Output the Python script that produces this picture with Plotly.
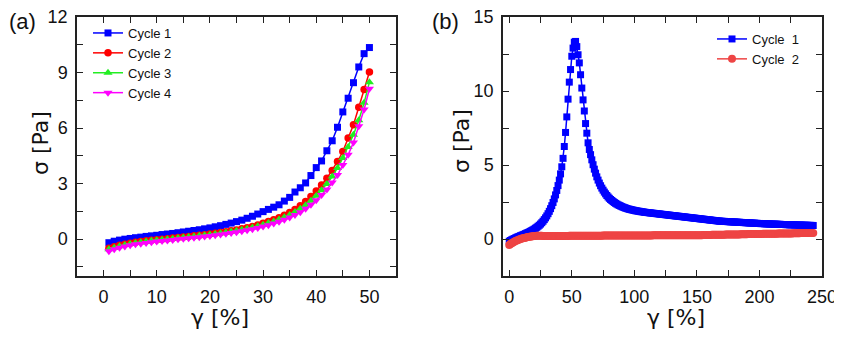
import plotly.graph_objects as go

# ---------------------------------------------------------------- données (a)
strain_a = [1, 2, 3, 4, 5, 6, 7, 8, 9, 10,
            11, 12, 13, 14, 15, 16, 17, 18, 19, 20,
            21, 22, 23, 24, 25, 26, 27, 28, 29, 30,
            31, 32, 33, 34, 35, 36, 37, 38, 39, 40,
            41, 42, 43, 44, 45, 46, 47, 48, 49, 50]

cycle1_a = [-0.20, -0.12, -0.06, -0.01, 0.03, 0.07, 0.10, 0.14, 0.17, 0.20,
            0.24, 0.27, 0.30, 0.34, 0.38, 0.42, 0.46, 0.50, 0.55, 0.60,
            0.66, 0.72, 0.79, 0.86, 0.94, 1.02, 1.12, 1.23, 1.35, 1.48,
            1.60, 1.72, 1.85, 2.05, 2.25, 2.54, 2.77, 3.03, 3.43, 3.86,
            4.22, 4.77, 5.31, 6.04, 6.87, 7.61, 8.45, 9.30, 10.02, 10.35]

cycle2_a = [-0.50, -0.42, -0.34, -0.28, -0.23, -0.18, -0.14, -0.10, -0.07, -0.04,
            -0.01, 0.02, 0.05, 0.08, 0.11, 0.14, 0.17, 0.20, 0.23, 0.27,
            0.31, 0.35, 0.39, 0.44, 0.49, 0.55, 0.61, 0.68, 0.76, 0.85,
            0.94, 1.04, 1.15, 1.28, 1.43, 1.60, 1.80, 2.03, 2.30, 2.59,
            2.92, 3.28, 3.70, 4.19, 4.73, 5.46, 6.18, 7.12, 8.08, 9.03]

cycle3_a = [-0.56, -0.47, -0.39, -0.32, -0.27, -0.22, -0.18, -0.14, -0.10, -0.07,
            -0.04, -0.01, 0.02, 0.05, 0.08, 0.11, 0.14, 0.17, 0.20, 0.23,
            0.27, 0.31, 0.35, 0.40, 0.45, 0.50, 0.56, 0.62, 0.69, 0.77,
            0.86, 0.95, 1.05, 1.17, 1.30, 1.46, 1.63, 1.83, 2.07, 2.34,
            2.64, 2.98, 3.38, 3.84, 4.38, 4.98, 5.64, 6.42, 7.36, 8.48]

cycle4_a = [-0.66, -0.56, -0.47, -0.40, -0.34, -0.29, -0.25, -0.21, -0.17, -0.14,
            -0.11, -0.08, -0.05, -0.02, 0.01, 0.04, 0.07, 0.10, 0.13, 0.16,
            0.20, 0.24, 0.28, 0.32, 0.37, 0.42, 0.47, 0.53, 0.60, 0.67,
            0.75, 0.84, 0.93, 1.04, 1.16, 1.30, 1.45, 1.63, 1.85, 2.10,
            2.38, 2.68, 3.05, 3.46, 4.00, 4.55, 5.22, 6.09, 7.00, 8.12]

# ---------------------------------------------------------------- données (b)
# balayage en déformation de 0 à 243 %, un point par %
strain_b = list(range(0, 244))

cycle1_b = [-0.15, -0.10, -0.05, -0.01, 0.03, 0.07, 0.11, 0.15, 0.18, 0.22,
            0.25, 0.29, 0.32, 0.36, 0.40, 0.44, 0.48, 0.52, 0.57, 0.62,
            0.67, 0.73, 0.79, 0.86, 0.93, 1.01, 1.10, 1.20, 1.31, 1.43,
            1.56, 1.71, 1.87, 2.05, 2.25, 2.47, 2.71, 2.98, 3.28, 3.61,
            3.98, 4.40, 4.88, 5.45, 6.25, 7.20, 8.25, 9.45, 10.60, 11.45,
            12.35, 12.90, 13.30, 13.35, 13.00, 12.45, 11.90, 11.10, 10.20, 9.40,
            8.65, 7.80, 7.15, 6.50, 6.05, 5.70, 5.35, 5.02, 4.72, 4.45,
            4.20, 3.98, 3.78, 3.60, 3.44, 3.30, 3.17, 3.05, 2.94, 2.84,
            2.75, 2.67, 2.60, 2.53, 2.47, 2.41, 2.36, 2.31, 2.27, 2.23,
            2.19, 2.15, 2.12, 2.09, 2.06, 2.03, 2.01, 1.99, 1.97, 1.95,
            1.93, 1.91, 1.90, 1.88, 1.87, 1.85, 1.84, 1.83, 1.81, 1.80,
            1.79, 1.78, 1.77, 1.76, 1.75, 1.74, 1.73, 1.72, 1.71, 1.70,
            1.69, 1.68, 1.67, 1.66, 1.65, 1.64, 1.63, 1.62, 1.61, 1.60,
            1.59, 1.58, 1.57, 1.56, 1.55, 1.54, 1.53, 1.52, 1.51, 1.50,
            1.49, 1.48, 1.47, 1.46, 1.45, 1.44, 1.43, 1.42, 1.41, 1.40,
            1.39, 1.38, 1.37, 1.36, 1.35, 1.34, 1.33, 1.32, 1.31, 1.30,
            1.29, 1.28, 1.27, 1.26, 1.25, 1.24, 1.23, 1.22, 1.21, 1.20,
            1.20, 1.19, 1.19, 1.18, 1.18, 1.17, 1.17, 1.16, 1.16, 1.15,
            1.15, 1.14, 1.14, 1.13, 1.13, 1.12, 1.12, 1.11, 1.11, 1.10,
            1.10, 1.09, 1.09, 1.08, 1.08, 1.07, 1.07, 1.06, 1.06, 1.05,
            1.05, 1.04, 1.04, 1.04, 1.03, 1.03, 1.02, 1.02, 1.02, 1.01,
            1.01, 1.01, 1.00, 1.00, 1.00, 0.99, 0.99, 0.99, 0.98, 0.98,
            0.98, 0.97, 0.97, 0.97, 0.96, 0.96, 0.96, 0.96, 0.95, 0.95,
            0.95, 0.94, 0.94, 0.94, 0.94, 0.93, 0.93, 0.93, 0.93, 0.92,
            0.92, 0.92, 0.92, 0.91]

cycle2_b = [-0.40, -0.34, -0.28, -0.23, -0.18, -0.14, -0.10, -0.06, -0.03, 0.00,
            0.03, 0.05, 0.07, 0.09, 0.11, 0.13, 0.15, 0.16, 0.18, 0.19,
            0.20, 0.21, 0.22, 0.22, 0.22, 0.22, 0.22, 0.21, 0.21, 0.21,
            0.21, 0.21, 0.21, 0.21, 0.21, 0.21, 0.21, 0.21, 0.21, 0.21,
            0.21, 0.21, 0.21, 0.21, 0.21, 0.21, 0.21, 0.21, 0.22, 0.22,
            0.22, 0.22, 0.22, 0.22, 0.22, 0.22, 0.22, 0.22, 0.22, 0.22,
            0.22, 0.22, 0.22, 0.22, 0.22, 0.22, 0.22, 0.22, 0.22, 0.22,
            0.22, 0.22, 0.22, 0.22, 0.22, 0.23, 0.23, 0.23, 0.23, 0.23,
            0.23, 0.23, 0.23, 0.23, 0.23, 0.23, 0.23, 0.23, 0.23, 0.23,
            0.23, 0.23, 0.23, 0.23, 0.23, 0.24, 0.24, 0.24, 0.24, 0.24,
            0.24, 0.24, 0.24, 0.24, 0.24, 0.24, 0.24, 0.24, 0.24, 0.24,
            0.24, 0.24, 0.24, 0.24, 0.24, 0.25, 0.25, 0.25, 0.25, 0.25,
            0.25, 0.25, 0.25, 0.25, 0.25, 0.25, 0.25, 0.25, 0.25, 0.25,
            0.25, 0.25, 0.25, 0.25, 0.25, 0.26, 0.26, 0.26, 0.26, 0.26,
            0.26, 0.26, 0.26, 0.26, 0.26, 0.26, 0.26, 0.26, 0.26, 0.26,
            0.26, 0.26, 0.26, 0.26, 0.26, 0.27, 0.27, 0.27, 0.27, 0.27,
            0.27, 0.27, 0.28, 0.28, 0.28, 0.28, 0.28, 0.29, 0.29, 0.29,
            0.29, 0.29, 0.29, 0.30, 0.30, 0.30, 0.30, 0.30, 0.30, 0.31,
            0.31, 0.31, 0.31, 0.31, 0.31, 0.32, 0.32, 0.32, 0.32, 0.32,
            0.32, 0.33, 0.33, 0.33, 0.33, 0.33, 0.33, 0.34, 0.34, 0.34,
            0.34, 0.34, 0.34, 0.35, 0.35, 0.35, 0.35, 0.35, 0.35, 0.36,
            0.36, 0.36, 0.36, 0.36, 0.36, 0.37, 0.37, 0.37, 0.37, 0.37,
            0.37, 0.38, 0.38, 0.38, 0.38, 0.38, 0.38, 0.39, 0.39, 0.39,
            0.39, 0.39, 0.39, 0.40, 0.40, 0.40, 0.40, 0.40, 0.40, 0.41,
            0.41, 0.41, 0.41, 0.41]

xticks_a = [0, 10, 20, 30, 40, 50]
yticks_a = [0, 3, 6, 9, 12]
xticks_b = [0, 50, 100, 150, 200, 250]
yticks_b = [0, 5, 10, 15]

# la page ajoute une marge de 8 px autour de la figure : on la compense
# (et on garde la page sans barre de défilement)
DECAL = 8
W, H = 842 - DECAL, 338 - 2 * DECAL
police = "Liberation Sans, Arial, sans-serif"
police_titre = "DejaVu Sans, sans-serif"


def px_x(p):
    return (p - DECAL) / W


def px_y(p):
    return 1 - (p - DECAL) / H


fig = go.Figure()

# (a) quatre cycles
styles_a = [
    ("Cycle 1", cycle1_a, "#0000ff", "square", 7),
    ("Cycle 2", cycle2_a, "#ff0000", "circle", 7.5),
    ("Cycle 3", cycle3_a, "#22ee22", "triangle-up", 8),
    ("Cycle 4", cycle4_a, "#ff00ff", "triangle-down", 8),
]
for nom, vals, coul, symb, taille in styles_a:
    fig.add_trace(go.Scatter(
        x=strain_a, y=vals, name=nom, mode="lines+markers",
        line=dict(color=coul, width=1.5),
        marker=dict(color=coul, symbol=symb, size=taille, line=dict(width=0)),
        xaxis="x", yaxis="y", legend="legend"))

# (b) deux cycles
fig.add_trace(go.Scatter(
    x=strain_b, y=cycle1_b, name="Cycle  1", mode="lines+markers",
    line=dict(color="#0000ff", width=1.5),
    marker=dict(color="#0000ff", symbol="square", size=7, line=dict(width=0)),
    xaxis="x2", yaxis="y2", legend="legend2"))
fig.add_trace(go.Scatter(
    x=strain_b, y=cycle2_b, name="Cycle  2", mode="lines+markers",
    line=dict(color="#ee4444", width=1.5),
    marker=dict(color="#ee4444", symbol="circle", size=8, line=dict(width=0)),
    xaxis="x2", yaxis="y2", legend="legend2"))


def axe(rng, ticks, minor, domaine, ancre):
    return dict(
        range=rng, domain=domaine, anchor=ancre, automargin=False,
        tickmode="array", tickvals=ticks, ticktext=[str(t) for t in ticks],
        ticks="inside", ticklen=6, tickwidth=1.3, tickcolor="#222",
        minor=dict(dtick=minor, ticks="inside", ticklen=6, tickwidth=1.3, tickcolor="#222"),
        showline=True, linecolor="#222", linewidth=1.5, mirror="ticks",
        showgrid=False, zeroline=False,
        tickfont=dict(family=police, size=18, color="#111"),
        ticklabelstandoff=4, ticklabeloverflow="allow",
    )


y_dom = [px_y(276), px_y(17)]
fig.update_layout(
    width=W, height=H,
    margin=dict(l=0, r=0, t=0, b=0, autoexpand=False),
    paper_bgcolor="white", plot_bgcolor="white",
    xaxis=axe([-5, 55], xticks_a, 5, [px_x(77), px_x(396)], "y"),
    yaxis=axe([-2, 12.001], yticks_a, 1.5, y_dom, "x"),
    xaxis2=axe([-5, 250.001], xticks_b, 25, [px_x(503), px_x(822)], "y2"),
    yaxis2=axe([-2.5, 15.001], yticks_b, 2.5, y_dom, "x2"),
    legend=dict(x=px_x(88), y=px_y(18), xanchor="left", yanchor="top",
                bgcolor="rgba(0,0,0,0)", font=dict(family=police, size=13, color="#111"),
                itemwidth=30, tracegroupgap=0),
    legend2=dict(x=px_x(712), y=px_y(24), xanchor="left", yanchor="top",
                 bgcolor="rgba(0,0,0,0)", font=dict(family=police, size=13, color="#111"),
                 itemwidth=30, tracegroupgap=0),
    showlegend=True,
)

# titres des axes et étiquettes des panneaux
textes = [
    ("σ [Pa]", 40, 143, 22, -90, police_titre),
    ("γ [%]", 220, 317, 22, 0, police_titre),
    ("σ [Pa]", 461, 141, 22, -90, police_titre),
    ("γ [%]", 676, 317, 22, 0, police_titre),
    ("(a)", 22, 21, 22, 0, police),
    ("(b)", 446, 21, 22, 0, police),
]
for txt, px, py, taille, angle, fam in textes:
    fig.add_annotation(
        text=txt, x=px_x(px), y=px_y(py), xref="paper", yref="paper",
        xanchor="center", yanchor="middle", showarrow=False, textangle=angle,
        font=dict(family=fam, size=taille, color="#111"))

fig.write_html("out.html")
